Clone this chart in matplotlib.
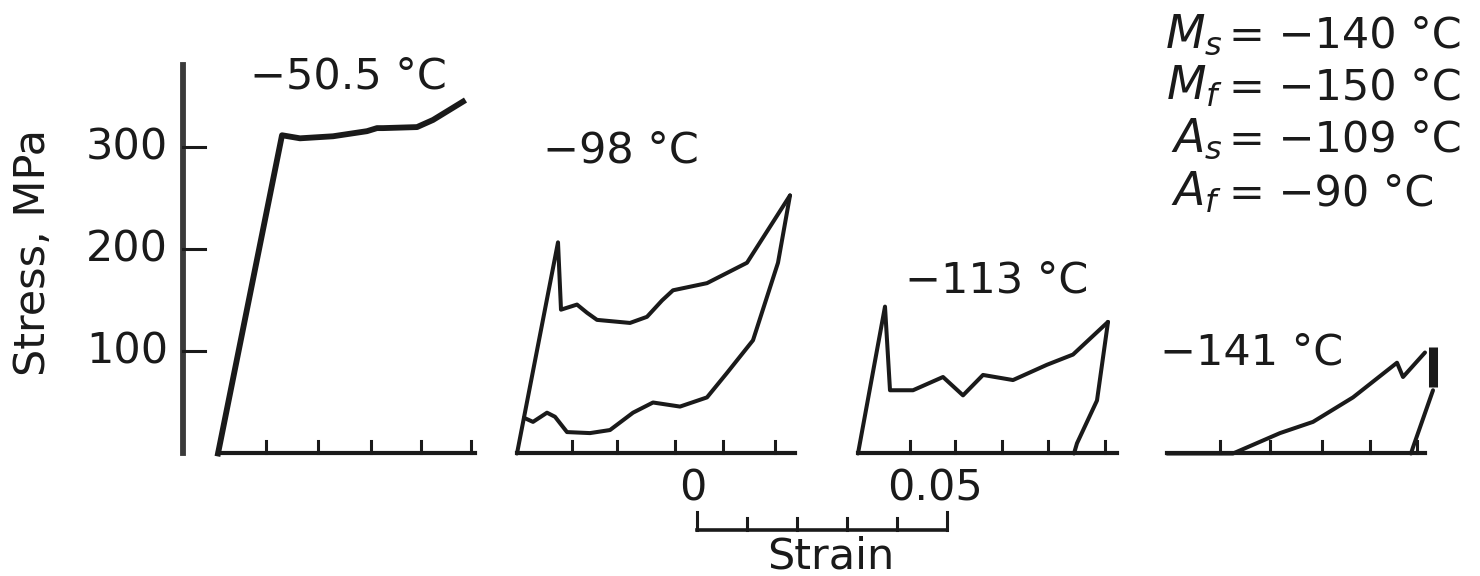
"""
Stress-strain curves of a shape memory alloy at four test temperatures,
drawn side by side with a shared stress axis and a strain scale bar.
"""
import matplotlib
matplotlib.use("Agg")
import matplotlib.pyplot as plt

plt.rcParams["font.family"] = ["DejaVu Sans"]
plt.rcParams["mathtext.fontset"] = "dejavusans"

# --- data (strain relative to each curve's origin, stress in MPa) ---
labels = ["\u221250.5 \u00b0C", "\u221298 \u00b0C", "\u2212113 \u00b0C", "\u2212141 \u00b0C"]

# -50.5 C : elastic loading then plateau
strain_50 = [0.0, 0.0128, 0.0164, 0.023, 0.0298, 0.0318, 0.033, 0.0398, 0.043, 0.049]
stress_50 = [0, 312, 309, 311, 316, 319, 319, 320, 327, 345]

# -98 C : loading and unloading branch
strain_98_load = [0.0, 0.0082, 0.0088, 0.012, 0.014, 0.016, 0.0226, 0.026, 0.029, 0.0312,
                  0.038, 0.046, 0.0546]
stress_98_load = [0, 207, 141, 146, 138, 131, 128, 134, 150, 160, 167, 187, 253]
strain_98_unload = [0.0546, 0.0522, 0.0472, 0.042, 0.038, 0.0326, 0.0272, 0.0232, 0.0186,
                    0.0146, 0.01, 0.0076, 0.006, 0.0032, 0.0014]
stress_98_unload = [253, 187, 111, 79, 55, 46, 50, 40, 23, 20, 21, 36, 40, 31, 35]

# -113 C
strain_113_load = [0.0, 0.0054, 0.0064, 0.011, 0.017, 0.021, 0.025, 0.031, 0.0378, 0.043, 0.05]
stress_113_load = [0, 144, 62, 62, 75, 57, 77, 72, 87, 97, 129]
strain_113_unload = [0.05, 0.0478, 0.0438, 0.0432]
stress_113_unload = [129, 52, 10, 0]

# -141 C
strain_141_load = [0.0, 0.0132, 0.0226, 0.0292, 0.0372, 0.046, 0.0472, 0.0516]
stress_141_load = [0, 0, 20, 31, 55, 89, 75, 99]
strain_141_block = [0.0532, 0.0532]
stress_141_block = [104, 65]
strain_141_unload = [0.0532, 0.0492, 0.0488]
stress_141_unload = [62, 6, 0]

# strain ticks on each curve's baseline
ticks_50 = [0.0095, 0.02, 0.0305, 0.0405, 0.0505]
ticks_98 = [0.011, 0.02, 0.0316, 0.0412, 0.0516]
ticks_113 = [0.0104, 0.0194, 0.0288, 0.038, 0.0494]
ticks_141 = [0.0106, 0.0206, 0.031, 0.0406, 0.05]
baseline_len = [0.0514, 0.0556, 0.0518, 0.0516]

stress_ticks = [100, 200, 300]
scale_ticks = [0.0, 0.01, 0.02, 0.03, 0.04, 0.05]

temps_names = [r"$M_s$", r"$M_f$", r"$A_s$", r"$A_f$"]
temps_values = ["= \u2212140 \u00b0C", "= \u2212150 \u00b0C", "= \u2212109 \u00b0C", "= \u221290 \u00b0C"]

# --- layout (horizontal origin of each curve, in strain units on the page) ---
origins = [0.0436, 0.1034, 0.1716, 0.2334]
ink = "#1a1a1a"
fs = 31

fig = plt.figure(figsize=(14.8, 5.76), dpi=100)
ax = fig.add_axes([0, 0, 1, 1])
ax.set_xlim(0, 0.296)
ax.set_ylim(-120.1, 444.6)
ax.axis("off")

line_kw = dict(color=ink, lw=2.9, solid_joinstyle="round", solid_capstyle="round")


def draw_baseline(x0, length, ticks):
    ax.plot([x0, x0 + length], [0, 0], color=ink, lw=3.0)
    for t in ticks:
        ax.plot([x0 + t, x0 + t], [0, 12], color=ink, lw=2.2)


#Stress axis
ax.plot([0.0366, 0.0366], [0, 381], color="#3a3a3a", lw=4.2)
for v in stress_ticks:
    ax.plot([0.0366, 0.041], [v, v], color=ink, lw=2.2)
    ax.text(0.0336, v, str(v), ha="right", va="center", fontsize=fs, color=ink)
ax.text(0.0066, 197.5, "Stress, MPa", rotation=90, ha="center", va="center",
        fontsize=fs, color=ink)

#Curve 1
x0 = origins[0]
draw_baseline(x0, baseline_len[0], ticks_50)
ax.plot([x0 + s for s in strain_50], stress_50, color=ink, lw=4.2, solid_joinstyle="round")

#Curve 2
x0 = origins[1]
draw_baseline(x0, baseline_len[1], ticks_98)
ax.plot([x0 + s for s in strain_98_load], stress_98_load, **line_kw)
ax.plot([x0 + s for s in strain_98_unload], stress_98_unload, **line_kw)

#Curve 3
x0 = origins[2]
draw_baseline(x0, baseline_len[2], ticks_113)
ax.plot([x0 + s for s in strain_113_load], stress_113_load, **line_kw)
ax.plot([x0 + s for s in strain_113_unload], stress_113_unload, **line_kw)

#Curve 4
x0 = origins[3]
draw_baseline(x0, baseline_len[3], ticks_141)
ax.plot([x0 + s for s in strain_141_load], stress_141_load, **line_kw)
ax.plot([x0 + s for s in strain_141_block], stress_141_block, color=ink, lw=6.5,
        solid_capstyle="butt")
ax.plot([x0 + s for s in strain_141_unload], stress_141_unload, **line_kw)

#Temperature labels
label_pos = [(0.050, 358), (0.1086, 285), (0.181, 158), (0.232, 87)]
for (lx, ly), lab in zip(label_pos, labels):
    ax.text(lx, ly, lab, ha="left", va="baseline", fontsize=fs, color=ink)

#Transformation temperatures
row_y = [398.5, 346.6, 295.6, 243.6]
for name, val, ry in zip(temps_names, temps_values, row_y):
    ax.text(0.2445, ry, name, ha="right", va="baseline", fontsize=fs + 2, color=ink)
    ax.text(0.2458, ry, val, ha="left", va="baseline", fontsize=fs, color=ink)

#Strain scale bar
sx0 = 0.1394
ax.plot([sx0, sx0 + 0.05], [-75, -75], color=ink, lw=2.6)
for i, t in enumerate(scale_ticks):
    top = -57 if i in (0, len(scale_ticks) - 1) else -63
    ax.plot([sx0 + t, sx0 + t], [-75, top], color=ink, lw=2.2)
ax.text(0.1386, -45.6, "0", ha="center", va="baseline", fontsize=fs, color=ink)
ax.text(0.187, -45.6, "0.05", ha="center", va="baseline", fontsize=fs, color=ink)
ax.text(0.1662, -112.5, "Strain", ha="center", va="baseline", fontsize=fs, color=ink)

fig.savefig("out.png", dpi=100, facecolor="white")
